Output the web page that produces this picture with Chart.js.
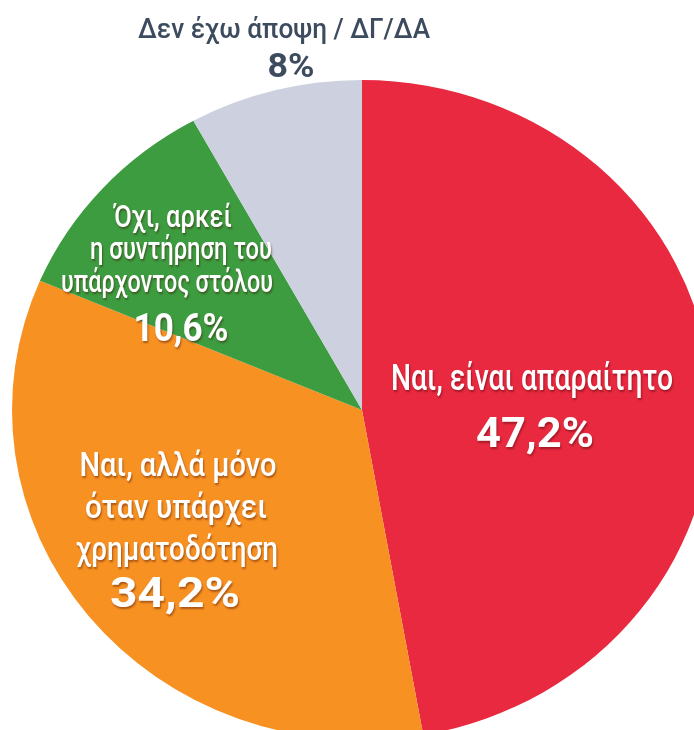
<!DOCTYPE html>
<html lang="el">
<head>
<meta charset="utf-8">
<script src="https://cdn.jsdelivr.net/npm/chart.js@4.4.1/dist/chart.umd.min.js"></script>
<style>
  html, body { margin: 0; padding: 0; background: #ffffff; overflow: hidden; width: 694px; height: 730px; }
  #wrap { position: absolute; left: 0; top: 0; width: 694px; height: 760px; }
</style>
</head>
<body>
<div id="wrap"><canvas id="c"></canvas></div>
<script>
// ---- data ----
const categories = [
  'Ναι, είναι απαραίτητο',
  'Ναι, αλλά μόνο όταν υπάρχει χρηματοδότηση',
  'Όχι, αρκεί η συντήρηση του υπάρχοντος στόλου',
  'Δεν έχω άποψη / ΔΓ/ΔΑ'
];
const values = [47.2, 34.2, 10.6, 8];
const labelLines = [
  ['Ναι, είναι απαραίτητο'],
  ['Ναι, αλλά μόνο', 'όταν υπάρχει', 'χρηματοδότηση'],
  ['Όχι, αρκεί', 'η συντήρηση του', 'υπάρχοντος στόλου'],
  ['Δεν έχω άποψη / ΔΓ/ΔΑ']
];
const pctLabels = values.map(v => String(v).replace('.', ',') + '%');

// ---- styles / layout ----
const colors = ['#e8293f', '#f79122', '#3d9c3f', '#cdd0de'];
const FONT = 'Roboto, "Noto Sans", sans-serif';
const SX = 350 / 330; // horizontal stretch of the pie (reference is slightly elliptical)
const layout = [
  { color: '#ffffff', shadow: true, size: 36,
    lines: [{ x: 532, y: 390, w: 282 }],
    pct: { x: 535, y: 447, w: 118, size: 43 } },
  { color: '#ffffff', shadow: true, size: 34,
    lines: [{ x: 178, y: 476, w: 197 }, { x: 176, y: 518, w: 182 }, { x: 177, y: 560, w: 202 }],
    pct: { x: 175, y: 607, w: 130, size: 43 } },
  { color: '#ffffff', shadow: true, size: 31,
    lines: [{ x: 173, y: 227, w: 118 }, { x: 181, y: 259, w: 182 }, { x: 167, y: 292, w: 212 }],
    pct: { x: 181, y: 341, w: 95, size: 38 } },
  { color: '#3d4b5f', shadow: false, size: 28,
    lines: [{ x: 284, y: 38, w: 292 }],
    pct: { x: 291, y: 77, w: 47, size: 33 } }
];

function fitText(ctx, text, cx, by, w, font) {
  ctx.font = font;
  const nat = ctx.measureText(text).width;
  const k = w / nat;
  ctx.save();
  ctx.translate(cx, by);
  ctx.scale(k, 1);
  ctx.textAlign = 'center';
  ctx.textBaseline = 'alphabetic';
  ctx.fillText(text, 0, 0);
  ctx.restore();
}

const ellipsePlugin = {
  id: 'ellipse',
  beforeDatasetsDraw(chart) {
    const ctx = chart.ctx;
    const arc = chart.getDatasetMeta(0).data[0];
    ctx.save();
    ctx.translate(arc.x, 0);
    ctx.scale(SX, 1);
    ctx.translate(-arc.x, 0);
  },
  afterDatasetsDraw(chart) { chart.ctx.restore(); }
};

const labelPlugin = {
  id: 'sliceLabels',
  afterDraw(chart) {
    const ctx = chart.ctx;
    layout.forEach((L, i) => {
      ctx.save();
      ctx.fillStyle = L.color;
      if (L.shadow) {
        ctx.shadowColor = 'rgba(60,0,0,0.4)';
        ctx.shadowOffsetX = 1;
        ctx.shadowOffsetY = 1.5;
        ctx.shadowBlur = 2;
      }
      labelLines[i].forEach((t, j) => {
        const p = L.lines[j];
        fitText(ctx, t, p.x, p.y, p.w, `500 ${L.size}px ${FONT}`);
      });
      fitText(ctx, pctLabels[i], L.pct.x, L.pct.y, L.pct.w, `700 ${L.pct.size}px ${FONT}`);
      ctx.restore();
    });
  }
};

new Chart(document.getElementById('c'), {
  type: 'pie',
  data: {
    labels: categories,
    datasets: [{
      data: values,
      backgroundColor: colors,
      borderWidth: 0,
      clip: false
    }]
  },
  options: {
    responsive: true,
    maintainAspectRatio: false,
    animation: false,
    rotation: 0,
    layout: { padding: { left: 32, right: 2, top: 80, bottom: 20 } },
    plugins: { legend: { display: false }, tooltip: { enabled: false } },
    events: []
  },
  plugins: [ellipsePlugin, labelPlugin]
});
</script>
</body>
</html>
